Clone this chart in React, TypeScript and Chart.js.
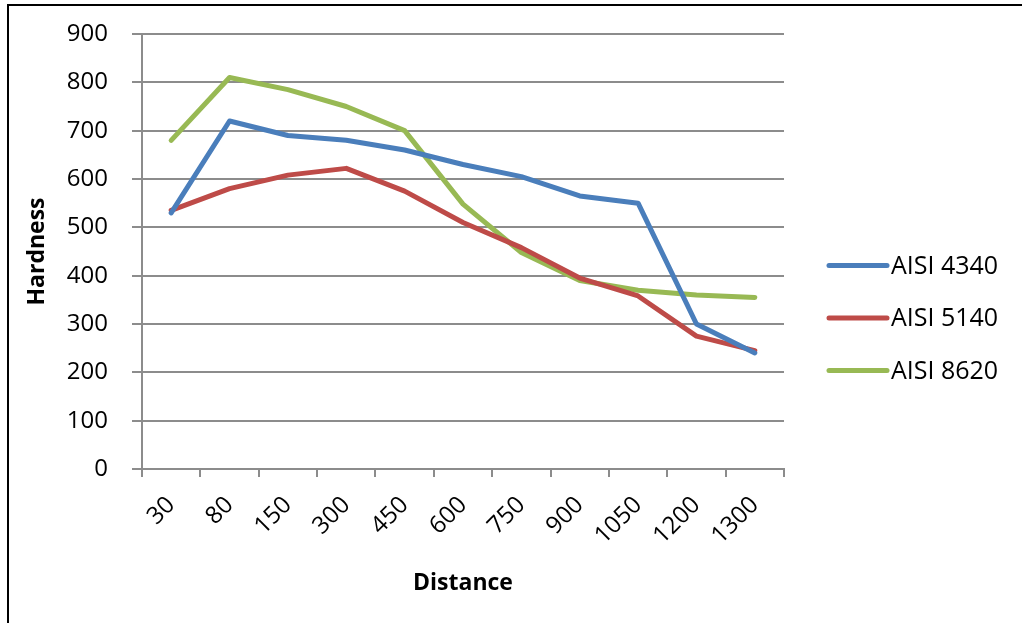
import React, { useEffect, useRef } from "react";
import { Chart, registerables } from "chart.js";

Chart.register(...registerables);

// Distance from the quenched end, used as category labels
const distances = ["30", "80", "150", "300", "450", "600", "750", "900", "1050", "1200", "1300"];

// Hardness readings per steel grade
const aisi4340 = [530, 720, 690, 680, 660, 630, 605, 565, 550, 300, 240];
const aisi5140 = [535, 580, 608, 622, 575, 510, 458, 395, 358, 275, 245];
const aisi8620 = [680, 810, 785, 750, 700, 548, 448, 390, 370, 360, 355];

const seriesNames = ["AISI 4340", "AISI 5140", "AISI 8620"];
const seriesColors = ["#4A7EBB", "#BE4B48", "#98B954"];

const yMin = 0;
const yMax = 900;
const yStep = 100;

const gridColor = "#8c8c8c";
const fontFamily = '"Open Sans", "Noto Sans", sans-serif';

// Legend drawn to the right of the plot: short thick line + label per series
const sideLegend = {
  id: "sideLegend",
  afterDraw(chart: any) {
    const ctx = chart.ctx as CanvasRenderingContext2D;
    const area = chart.chartArea;
    const lineStart = area.right + 45;
    const lineLen = 58;
    const rowGap = 52.5;
    const midY = chart.height / 2 + 6.5;
    const n = chart.data.datasets.length;
    ctx.save();
    ctx.font = `25px ${fontFamily}`;
    ctx.textBaseline = "middle";
    ctx.textAlign = "left";
    chart.data.datasets.forEach((ds: any, i: number) => {
      const y = midY + (i - (n - 1) / 2) * rowGap;
      ctx.beginPath();
      ctx.strokeStyle = ds.borderColor;
      ctx.lineWidth = 5;
      ctx.lineCap = "round";
      ctx.moveTo(lineStart, y);
      ctx.lineTo(lineStart + lineLen, y);
      ctx.stroke();
      ctx.fillStyle = "#000";
      ctx.fillText(ds.label, lineStart + lineLen + 4, y + 1);
    });
    ctx.restore();
  },
};

export default function App() {
  const canvasRef = useRef<HTMLCanvasElement | null>(null);

  useEffect(() => {
    document.body.style.margin = "0";
    const canvas = canvasRef.current;
    if (!canvas) return;

    const values = [aisi4340, aisi5140, aisi8620];

    const chart = new Chart(canvas, {
      type: "line",
      data: {
        labels: distances,
        datasets: values.map((v, i) => ({
          label: seriesNames[i],
          data: v,
          borderColor: seriesColors[i],
          backgroundColor: seriesColors[i],
          borderWidth: 5,
          pointRadius: 0,
          pointHoverRadius: 0,
          tension: 0,
          borderJoinStyle: "round" as const,
          borderCapStyle: "round" as const,
          fill: false,
        })),
      },
      options: {
        responsive: false,
        animation: false,
        devicePixelRatio: 1,
        layout: { padding: { top: 34, right: 238, bottom: 0, left: 0 } },
        plugins: {
          legend: { display: false },
          tooltip: { enabled: false },
        },
        scales: {
          x: {
            type: "category",
            offset: true,
            grid: {
              offset: true,
              drawOnChartArea: false,
              drawTicks: true,
              tickLength: 8,
              color: gridColor,
              lineWidth: 2,
            },
            border: { display: true, color: gridColor, width: 2 },
            ticks: {
              minRotation: 45,
              maxRotation: 45,
              padding: 14,
              color: "#000",
              font: { family: fontFamily, size: 24 },
            },
            title: {
              display: true,
              text: "Distance",
              color: "#000",
              font: { family: fontFamily, size: 23, weight: "bold" },
              padding: { top: 0, bottom: 26 },
            },
            afterFit(scale: any) {
              scale.height = 154;
            },
          },
          y: {
            min: yMin,
            max: yMax,
            grid: {
              drawTicks: true,
              tickLength: 10,
              color: gridColor,
              lineWidth: 2,
            },
            border: { display: true, color: gridColor, width: 2 },
            ticks: {
              stepSize: yStep,
              padding: 24,
              color: "#000",
              font: { family: fontFamily, size: 24 },
            },
            title: {
              display: true,
              text: "Hardness",
              color: "#000",
              font: { family: fontFamily, size: 23, weight: "bold" },
              padding: { top: 24, bottom: 0 },
            },
            afterFit(scale: any) {
              scale.width = 142;
              // label overhang only needs half a line, not the horizontal tick padding
              scale.paddingTop = 15;
              scale.paddingBottom = 15;
            },
          },
        },
      },
      plugins: [sideLegend],
    });

    return () => {
      chart.destroy();
    };
  }, []);

  return (
    <div style={{ position: "relative", width: 1022, height: 623, background: "#fff", overflow: "hidden" }}>
      <canvas ref={canvasRef} width={1022} height={623} style={{ display: "block" }} />
      <div
        style={{
          position: "absolute",
          left: 7,
          top: 4,
          width: 1015,
          height: 619,
          borderTop: "2px solid #000",
          borderLeft: "2px solid #000",
          boxSizing: "border-box",
          pointerEvents: "none",
        }}
      />
    </div>
  );
}
